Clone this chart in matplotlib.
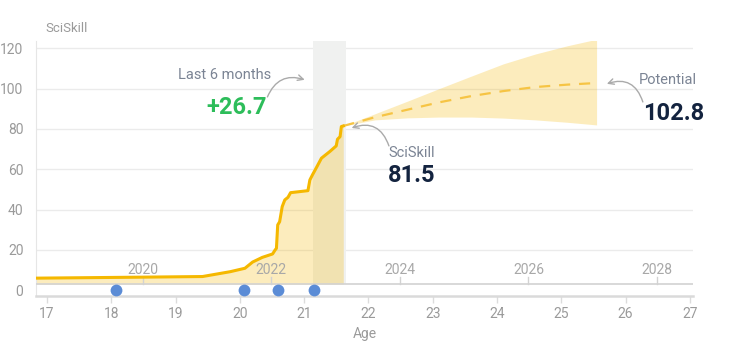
import matplotlib
matplotlib.use('Agg')
import matplotlib.pyplot as plt
import numpy as np

plt.rcParams['font.family'] = ['Roboto', 'DejaVu Sans']

# history of the skill score (age, value)
hist_age = [16.83, 17.5, 18.5, 19.42, 19.85, 20.08, 20.2, 20.35, 20.51, 20.55,
            20.57, 20.59, 20.62, 20.66, 20.70, 20.75, 20.79, 21.06, 21.09, 21.13,
            21.20, 21.27, 21.40, 21.50, 21.52, 21.56, 21.58, 21.61]
hist_val = [6.0, 6.2, 6.5, 6.8, 9.2, 10.9, 14.0, 16.3, 18.0, 20.0,
            20.8, 32.4, 34.0, 41.5, 44.8, 46.1, 48.4, 49.4, 54.7, 57.2,
            61.3, 65.5, 68.8, 71.6, 74.9, 76.2, 81.2, 81.5]

# forecast
fc_age = [21.61, 22.1, 22.6, 23.1, 23.6, 24.1, 24.6, 25.1, 25.55]
fc_mean = [81.5, 85.8, 89.5, 93.2, 96.3, 98.8, 100.8, 102.0, 102.8]
fc_upper = [81.5, 87.5, 93.7, 100.0, 106.2, 112.3, 117.2, 121.3, 124.5]
fc_lower = [81.5, 84.5, 85.5, 85.9, 85.9, 85.4, 84.5, 83.3, 82.0]

# assessment dates (age)
event_age = [18.07, 20.07, 20.60, 21.15]

# last-6-months window
window = (21.14, 21.645)

age_ticks = [17, 18, 19, 20, 21, 22, 23, 24, 25, 26, 27]
years = [2020, 2022, 2024, 2026, 2028]
year_offset = 2001.51  # calendar year = age + offset
y_ticks = [0, 20, 40, 60, 80, 100, 120]

current = 81.5
potential = 102.8
gain = 26.7

YELLOW = '#f5b800'
GREY_TXT = '#9a9a9a'
LABEL_TXT = '#7b8494'
NAVY = '#13233f'
GREEN = '#2dbd5a'
BASE = 3

fig = plt.figure(figsize=(7.5, 3.51), dpi=100)
ax = fig.add_axes([0.048, 0.157, 0.876, 0.726])
ax.set_xlim(16.83, 27.05)
ax.set_ylim(-2.8, 123.6)

# grid
for v in y_ticks[1:]:
    ax.axhline(v, color='#ebebeb', lw=1, zorder=0)

# last 6 months band
ymin = (BASE - (-2.8)) / (123.6 + 2.8)
ax.axvspan(window[0], window[1], ymin=ymin, ymax=1, color='#f0f1f0', lw=0, zorder=1)

# history
ax.fill_between(hist_age, hist_val, BASE, color=YELLOW, alpha=0.26, lw=0, zorder=2)
ax.plot(hist_age, hist_val, color=YELLOW, lw=2.2, zorder=4, solid_joinstyle='round')

# forecast
ax.fill_between(fc_age, fc_lower, fc_upper, color=YELLOW, alpha=0.26, lw=0, zorder=2)
ax.plot(fc_age, fc_mean, color='#f6c444', lw=1.6, dashes=(5, 4), zorder=3)

# year axis line
ax.axhline(BASE, color='#d2d2d2', lw=1.2, zorder=3)
for yr in years:
    a = yr - year_offset
    ax.plot([a, a], [BASE, BASE + 3.5], color='#d2d2d2', lw=1, zorder=3)
    ax.text(a, BASE + 7.2, str(yr), ha='center', va='center', fontsize=10,
            color='#a8a8a8', zorder=5)

# events
ax.plot(event_age, [0] * len(event_age), 'o', ms=8.5, color='#5b8cd6',
        mec='none', zorder=5, clip_on=False)

# spines and ticks
for s in ['top', 'right']:
    ax.spines[s].set_visible(False)
ax.spines['left'].set_color('#e6e6e6')
ax.spines['bottom'].set_color('#dadada')
ax.spines['bottom'].set_linewidth(1.8)
ax.set_xticks(age_ticks)
ax.set_yticks(y_ticks)
ax.tick_params(axis='y', length=0, pad=9, labelsize=10, labelcolor=GREY_TXT)
ax.tick_params(axis='x', length=5, width=1, color='#dcdcdc', pad=3,
               labelsize=10, labelcolor=GREY_TXT)
ax.set_xlabel('Age', fontsize=10, color=GREY_TXT, labelpad=4)
fig.text(45 / 750, 1 - 28 / 351, 'SciSkill', fontsize=9.5, color=GREY_TXT,
         ha='left', va='center')

arrow = dict(arrowstyle='->', color='#aaaaaa', lw=1, shrinkA=0, shrinkB=0)

# last 6 months
ax.text(19.77, 106.8, 'Last 6 months', ha='center', va='center', fontsize=10.5,
        color=LABEL_TXT)
ax.text(20.42, 90.5, '+{:.1f}'.format(gain), ha='right', va='center',
        fontsize=17, fontweight='bold', color=GREEN)
ax.annotate('', xy=(21.01, 104.4), xytext=(20.43, 95.9),
            arrowprops=dict(connectionstyle='arc3,rad=-0.45', **arrow))

# current
ax.text(22.32, 68.1, 'SciSkill', ha='left', va='center', fontsize=10.5,
        color=LABEL_TXT)
ax.text(22.30, 56.8, '{:.1f}'.format(current), ha='left', va='center',
        fontsize=17, fontweight='bold', color=NAVY)
ax.annotate('', xy=(21.74, 80.5), xytext=(22.32, 71.6),
            arrowprops=dict(connectionstyle='arc3,rad=0.5', **arrow))

# potential
ax.text(27.11, 104.4, 'Potential', ha='right', va='center', fontsize=10.5,
        color=LABEL_TXT, clip_on=False)
ax.text(26.27, 87.5, '{:.1f}'.format(potential), ha='left', va='center',
        fontsize=17, fontweight='bold', color=NAVY, clip_on=False)
ax.annotate('', xy=(25.71, 102.4), xytext=(26.27, 93.4),
            arrowprops=dict(connectionstyle='arc3,rad=0.5', **arrow))

fig.savefig('out.png', dpi=100)
